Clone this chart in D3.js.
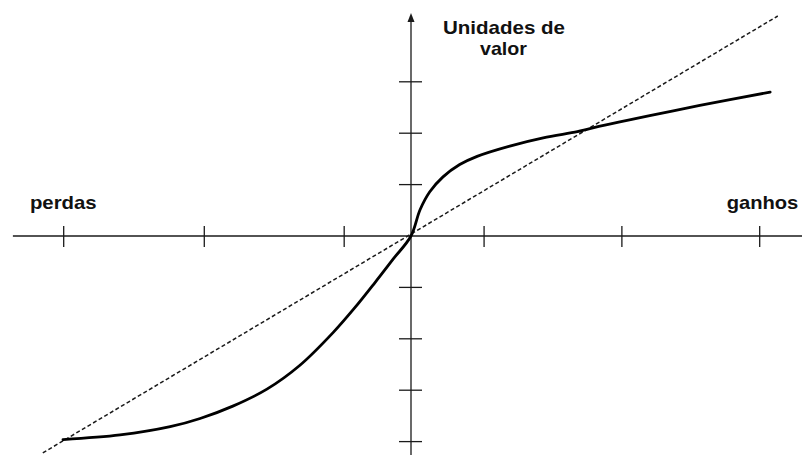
<!DOCTYPE html>
<html>
<head>
<meta charset="utf-8">
<script src="https://cdn.jsdelivr.net/npm/d3@7"></script>
<style>
html,body{margin:0;padding:0;background:#fff;}
svg{display:block;}
text{font-family:"Liberation Sans",Arial,Helvetica,sans-serif;font-weight:bold;fill:#111;}
</style>
</head>
<body>
<svg id="chart" width="802" height="455"></svg>
<script>
// ---- data (value units) ----
const xTicks = [-4.99, -2.97, -0.96, 1.05, 3.03, 5.01];
const yTicks = [3, 2, 1, -1, -2, -3, -4];
const curveX = [-5.00, -4.18, -3.46, -3.03, -2.56, -2.07, -1.60, -1.12, -0.81, -0.52, -0.26, 0, 0.13, 0.27, 0.46, 0.70, 0.95, 1.42, 1.90, 2.39, 2.57, 3.43, 4.15, 5.16];
const curveY = [-3.96, -3.87, -3.71, -3.55, -3.31, -2.98, -2.52, -1.88, -1.40, -0.91, -0.455, 0, 0.51, 0.86, 1.15, 1.39, 1.55, 1.75, 1.91, 2.03, 2.09, 2.34, 2.54, 2.80];
const refX = [-5.29, 5.27];
const refY = [-4.22, 4.28];
const axisXExtent = [-5.72, 5.62];
const axisYExtent = [-4.26, 4.34];
const labels = ["perdas", "ganhos", "Unidades de", "valor"];

// ---- scales ----
const x = d3.scaleLinear().domain([0, 1]).range([411, 411 + 69.6]);
const y = d3.scaleLinear().domain([0, 1]).range([236, 236 - 51.4]);

const svg = d3.select("#chart");
const ink = "#1a1a1a";

// x axis line
svg.append("line")
  .attr("x1", x(axisXExtent[0])).attr("x2", x(axisXExtent[1]))
  .attr("y1", y(0)).attr("y2", y(0))
  .attr("stroke", ink).attr("stroke-width", 1.3);

// y axis line
svg.append("line")
  .attr("x1", x(0)).attr("x2", x(0))
  .attr("y1", y(axisYExtent[0])).attr("y2", y(axisYExtent[1]) + 6)
  .attr("stroke", ink).attr("stroke-width", 1.3);

// arrow head
const tipY = y(axisYExtent[1]);
svg.append("path")
  .attr("d", `M${x(0)},${tipY} L${x(0) - 3.5},${tipY + 9} L${x(0) + 3.5},${tipY + 9} Z`)
  .attr("fill", ink);

// x ticks
svg.selectAll(".xt").data(xTicks).enter().append("line")
  .attr("x1", d => x(d)).attr("x2", d => x(d))
  .attr("y1", y(0) - 10).attr("y2", y(0) + 11)
  .attr("stroke", ink).attr("stroke-width", 1.3);

// y ticks
svg.selectAll(".yt").data(yTicks).enter().append("line")
  .attr("x1", x(0) - 12).attr("x2", x(0) + 11)
  .attr("y1", d => y(d)).attr("y2", d => y(d))
  .attr("stroke", ink).attr("stroke-width", 1.3);

// dashed reference line
svg.append("line")
  .attr("x1", x(refX[0])).attr("y1", y(refY[0]))
  .attr("x2", x(refX[1])).attr("y2", y(refY[1]))
  .attr("stroke", ink).attr("stroke-width", 1.5)
  .attr("stroke-dasharray", "4,2.5");

// value curve
const pts = curveX.map((v, i) => [v, curveY[i]]);
const line = d3.line().x(d => x(d[0])).y(d => y(d[1])).curve(d3.curveCatmullRom.alpha(0.5));
svg.append("path")
  .attr("d", line(pts))
  .attr("fill", "none")
  .attr("stroke", "#000")
  .attr("stroke-width", 2.8)
  .attr("stroke-linecap", "round")
  .attr("stroke-linejoin", "round");

// labels
function label(t, cx, by, w) {
  svg.append("text")
    .attr("x", cx).attr("y", by)
    .attr("text-anchor", "middle")
    .attr("font-size", 18.5)
    .attr("textLength", w)
    .attr("lengthAdjust", "spacingAndGlyphs")
    .text(t);
}
label(labels[0], 63.3, 209, 66.7);
label(labels[1], 762.5, 209, 71.7);
label(labels[2], 504, 34.3, 122);
label(labels[3], 503.5, 55, 47);
</script>
</body>
</html>
